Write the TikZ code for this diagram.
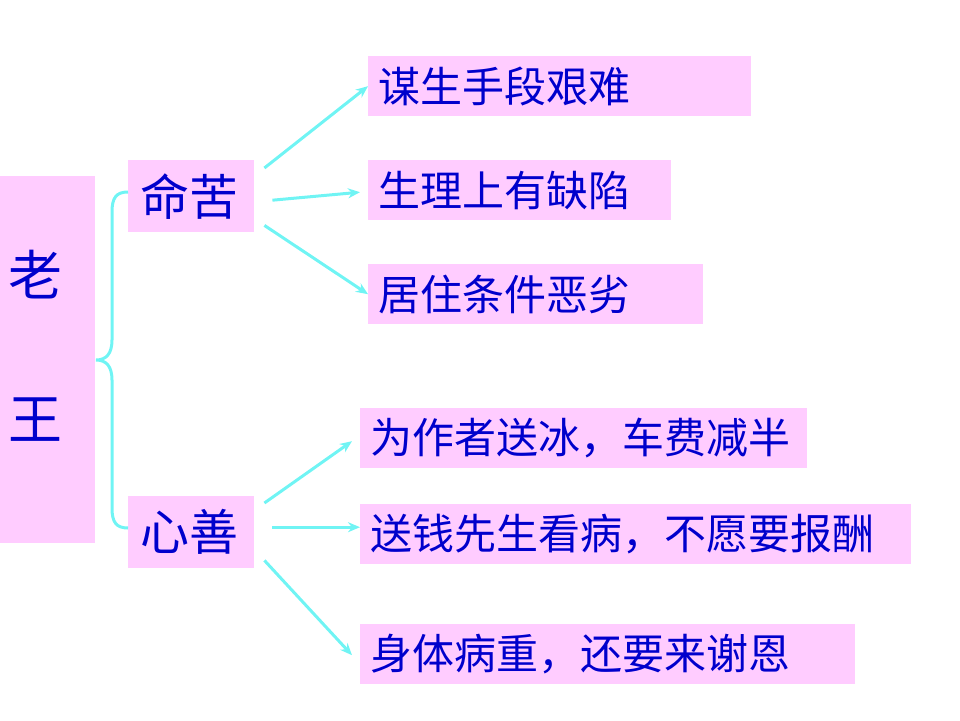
\documentclass[tikz,border=0pt]{standalone}
\usepackage{fontspec}
\newfontfamily\cjk{Noto Sans CJK SC}
\usetikzlibrary{arrows.meta}
\definecolor{boxpink}{HTML}{FFCCFF}
\definecolor{txtblue}{HTML}{0000CC}
\definecolor{linecyan}{HTML}{70F4F4}
\tikzset{
  pbox/.style={fill=boxpink, draw=none, anchor=north west, inner xsep=10pt, inner ysep=0pt,
    align=left, text=txtblue, font=\cjk\fontsize{42}{46}\selectfont},
  arr/.style={draw=linecyan, line width=3pt, -{Stealth[length=12pt,width=10pt]}},
  brace/.style={draw=linecyan, line width=3pt}
}
\begin{document}
\begin{tikzpicture}[x=1pt,y=-1pt]
\useasboundingbox (0,0) rectangle (960,720);
% root
\node[fill=boxpink, anchor=north west, minimum width=95pt, minimum height=367pt, inner sep=0pt] (lw) at (0,176) {};
\node[text=txtblue, font=\cjk\fontsize{54}{58}\selectfont, align=center, inner sep=0pt] (lwt) at (36,346) {老\\[86pt]王};
% level 1
\node[pbox, text width=102pt, minimum height=72pt, inner xsep=12pt, font=\cjk\fontsize{49}{52}\selectfont] (mk) at (128,160) {命苦};
\node[pbox, text width=102pt, minimum height=72pt, inner xsep=12pt, font=\cjk\fontsize{49}{52}\selectfont] (xs) at (128,496) {心善};
% level 2
\node[pbox, text width=363pt, minimum height=60pt] (t1) at (368,56) {谋生手段艰难};
\node[pbox, text width=283pt, minimum height=60pt] (t2) at (368,160) {生理上有缺陷};
\node[pbox, text width=315pt, minimum height=60pt] (t3) at (368,264) {居住条件恶劣};
\node[pbox, text width=427pt, minimum height=60pt] (t4) at (360,408) {为作者送冰，车费减半};
\node[pbox, text width=531pt, minimum height=60pt] (t5) at (360,504) {送钱先生看病，不愿要报酬};
\node[pbox, text width=475pt, minimum height=60pt] (t6) at (360,624) {身体病重，还要来谢恩};
% brace
\draw[brace] ([shift={(0,32)}]mk.north west) .. controls (116,192) and (112,198) .. (112,212)
  -- (112,340) .. controls (112,354) and (106,360) .. (96,360)
  .. controls (106,360) and (112,366) .. (112,380)
  -- (112,508) .. controls (112,522) and (116,528) .. ([shift={(0,32)}]xs.north west);
% arrows
\draw[arr] ([shift={(10,8)}]mk.north east) -- (t1.west);
\draw[arr] ([shift={(18,4)}]mk.east) -- ([shift={(-8,2)}]t2.west);
\draw[arr] ([shift={(10,-7)}]mk.south east) -- (t3.west);
\draw[arr] ([shift={(10,7)}]xs.north east) -- ([shift={(-8,3)}]t4.west);
\draw[arr] ([shift={(18,-5)}]xs.east) -- ([shift={(0,-7)}]t5.west);
\draw[arr] ([shift={(10,-8)}]xs.south east) -- ([shift={(-8,1)}]t6.west);
\end{tikzpicture}
\end{document}
